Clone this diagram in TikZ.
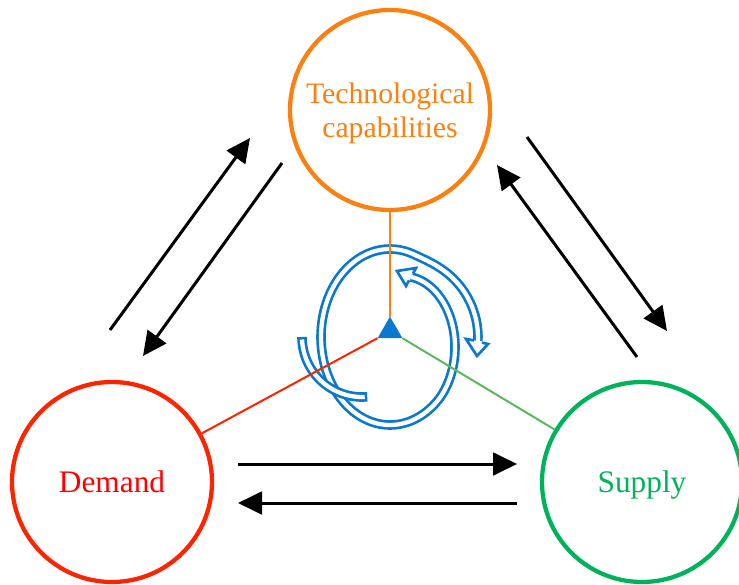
\documentclass[tikz,border=0pt]{standalone}
\usepackage{fontspec}
\setmainfont{Liberation Serif}
\usetikzlibrary{arrows.meta, shapes.geometric}
\definecolor{techorange}{RGB}{250,128,16}
\definecolor{demred}{RGB}{255,36,0}
\definecolor{supgreen}{RGB}{0,178,90}
\definecolor{spokegreen}{RGB}{92,184,92}
\definecolor{cycleblue}{RGB}{10,120,205}
\tikzset{
    x=0.75pt, y=-0.75pt, % one unit is one pixel, y runs downwards
    factor/.style={circle, draw, line width=3.2pt, minimum size=150pt, inner sep=0pt, text depth=0pt, align=center}, % the three big circles
    flow/.style={line width=2.25pt, -{Triangle[length=18pt, width=17pt]}}, % black arrows between the circles
    spoke/.style={line width=1.5pt}, % thin lines out of the hub
    band/.style={draw=cycleblue, line width=2pt, double=white, double distance=3.2pt}, % hollow blue band, open ends
    shortband/.style={draw=cycleblue, line width=7.2pt, postaction={draw=white, line width=3.2pt, shorten <=2pt, shorten >=2pt}}, % hollow band, closed ends
    tipfill/.style={fill=white}, % inside of the hollow heads
    tipline/.style={draw=cycleblue, line width=2pt, line join=miter}, % outline of the hollow heads
    declare function={
        vv(\t)=max(0,(45-\t)/111);
        ww(\t)=min(1,max(0,(\t-290)/70));
        sp(\t)=1-0.253*vv(\t)*sqrt(vv(\t))+0.275*ww(\t)*ww(\t)*(3-2*ww(\t));
    }, % how far the spiral is from the ring
}

\begin{document}
\begin{tikzpicture}
\useasboundingbox (0,0) rectangle (739,585);
\node[factor, draw=techorange, text=techorange, font=\fontsize{22.3}{25.5}\selectfont] (tech) at (390,110) {Technological\\capabilities};
\node[factor, draw=demred, text=red, font=\fontsize{23.5}{28}\selectfont] (dem) at (112,482) {Demand};
\node[factor, draw=supgreen, text=supgreen, font=\fontsize{23.5}{28}\selectfont] (sup) at (642,482) {Supply};

% the turning arrow in the middle
\draw[band] plot[domain=-66:362, samples=160, variable=\t] ({390+69*sp(\t)*cos(\t)}, {337+88*sp(\t)*sin(\t)});
\fill[tipfill] (411,277) -- (416,268) -- (397,271) -- (406,286) -- cycle;
\draw[tipline] (412.9,273.7) -- (416,268) -- (397,271) -- (406,286) -- (409.1,280.3);
\fill[tipfill] (478,341) -- (466,339) -- (477,356) -- (488,344) -- cycle;
\draw[tipline] (474.2,340.4) -- (466,339) -- (477,356) -- (488,344) -- (481.8,342.6);
\draw[shortband] plot[domain=180:85, samples=40, variable=\t] ({362+60*cos(\t)}, {337+60*sin(\t)});

\node[regular polygon, regular polygon sides=3, fill=cycleblue, minimum size=21.5pt, inner sep=0pt, outer sep=0pt] (hub) at (390,331) {};
\draw[spoke, techorange] (tech) -- (hub.corner 1);
\draw[spoke, demred] (hub.corner 2) -- (dem);
\draw[spoke, spokegreen] (hub.corner 3) -- (sup);

\coordinate (dt1) at (110,330); \coordinate (dt2) at (250,138);
\coordinate (td1) at (282,163); \coordinate (td2) at (143,356);
\coordinate (ts1) at (527,137); \coordinate (ts2) at (667,331);
\coordinate (st1) at (637,357); \coordinate (st2) at (497,165);
\coordinate (ds1) at (238,464); \coordinate (ds2) at (517,464);
\coordinate (sd1) at (517,503); \coordinate (sd2) at (238,503);
\path[flow] (dt1) edge (dt2)
    (td1) edge (td2)
    (ts1) edge (ts2)
    (st1) edge (st2)
    (ds1) edge (ds2)
    (sd1) edge (sd2);
\end{tikzpicture}
\end{document}
